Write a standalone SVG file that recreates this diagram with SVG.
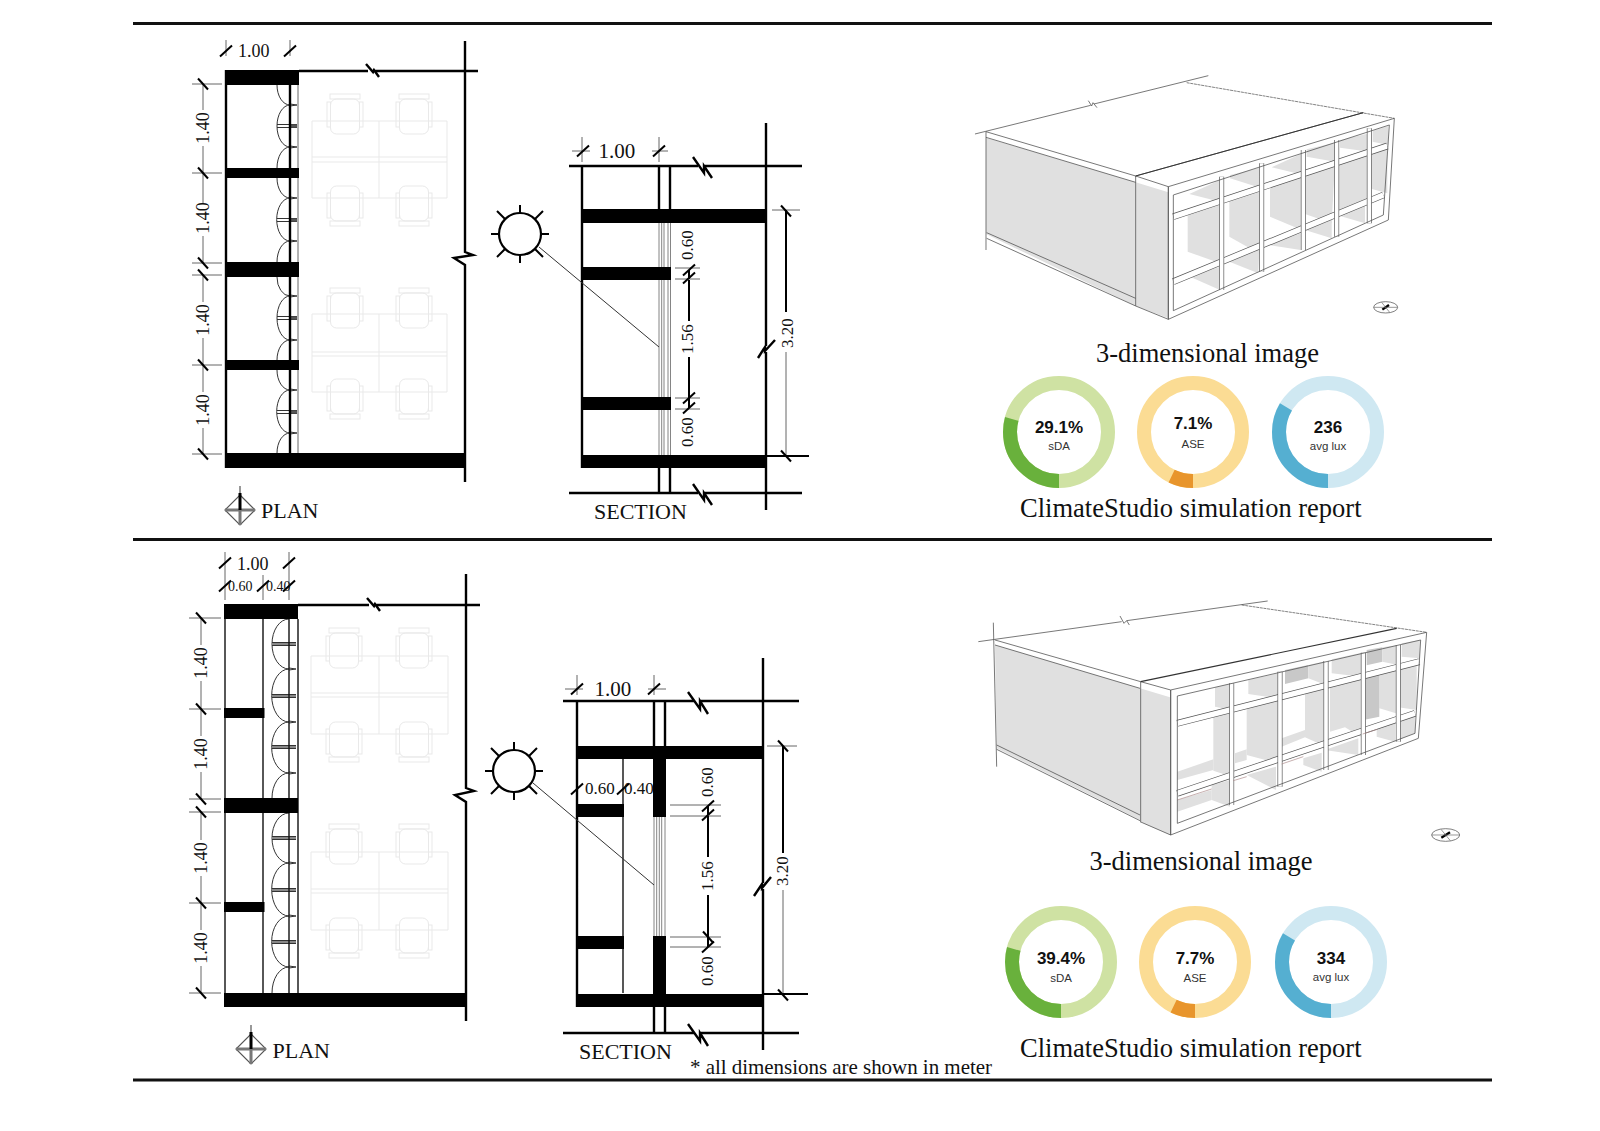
<svg xmlns="http://www.w3.org/2000/svg" xmlns:xlink="http://www.w3.org/1999/xlink" width="1600" height="1131" viewBox="0 0 1600 1131">
<style>
text{font-family:"Liberation Serif","Times New Roman",serif;fill:#111}
.sans{font-family:"Liberation Sans",Arial,sans-serif}
.b{font-weight:700;font-size:17px}
.s{font-size:11.5px;fill:#333}
.m{text-anchor:middle}
.cap{font-size:26.5px}
.d18{font-size:18px}.d17{font-size:17px}.d14{font-size:14px}.d21{font-size:21px}.d22{font-size:22px}
.k{fill:none;stroke:#000;stroke-width:2.4}
.w{fill:none;stroke:#111;stroke-width:1.4}
.g{fill:none;stroke:#666;stroke-width:1}
.t{fill:none;stroke:#777;stroke-width:.9}
.ray{fill:none;stroke:#333;stroke-width:1}
.slab{fill:#000}
.sl{fill:none;stroke:#000;stroke-width:2}
.arc{fill:none;stroke:#333;stroke-width:1}
.f{fill:none;stroke:#e9e9e9;stroke-width:1}
.ring{fill:none;stroke-width:14}
.face{fill:#e0e0e0}
.e{fill:none;stroke:#555;stroke-width:2.4}
.ed{fill:none;stroke:#444;stroke-width:2;stroke-dasharray:9 2}
.mo{fill:none;stroke:#555;stroke-width:15}
.mi{fill:none;stroke:#fff;stroke-width:11}
.bo{fill:none;stroke:#555;stroke-width:20}
.bi{fill:none;stroke:#fff;stroke-width:16}
</style>
<defs>
<path id="sa" class="sl" d="M-5,-5.5 L5,5.5"/>
<path id="sb" class="sl" d="M-6,5.5 L6,-5.5"/>
<g id="chair"><rect class="f" x="-15" y="0" width="30" height="5"/><rect class="f" x="-18" y="8" width="3.5" height="25"/><rect class="f" x="14.5" y="8" width="3.5" height="25"/><rect class="f" x="-14.5" y="5" width="29" height="35" rx="6"/></g>
<g id="mid1"><path class="arc" d="M277,-1.5H297M277,1.5H297"/><rect x="290" y="-1.5" width="7" height="3" fill="#555"/></g>
<g id="tip"><path class="arc" d="M290,-1L297,0L290,1"/></g>
<g id="north"><path fill="none" stroke="#555" stroke-width="1.2" d="M0,-15L15,0L0,15L-15,0Z M0,-24V15"/><rect x="-15" y="-1.5" width="30" height="3" fill="#777"/><rect x="-1.5" y="-17" width="3" height="17" fill="#000"/><rect x="-1.5" y="0" width="3" height="15" fill="#777"/></g>
<g id="sun"><circle r="21" fill="#fff" stroke="#000" stroke-width="2.2"/><path class="sl" d="M0,-21V-29M0,21V29M-21,0H-29M21,0H29M-15,-15L-23,-23M15,-15L23,-23M-15,15L-23,23M15,15L23,23"/></g>
<g id="sda"><circle class="ring" r="49" stroke="#cfe2a3"/><circle class="ring" r="49" stroke="#69b13c" pathLength="100" stroke-dasharray="29.3 70.7" transform="rotate(90)"/></g>
<g id="ase"><circle class="ring" r="49" stroke="#fbdc94"/><circle class="ring" r="49" stroke="#e8952c" pathLength="100" stroke-dasharray="7.2 92.8" transform="rotate(90)"/></g>
<g id="lux"><circle class="ring" r="49" stroke="#cfe8f2"/><circle class="ring" r="49" stroke="#55afd1" pathLength="100" stroke-dasharray="33.6 66.4" transform="rotate(90)"/></g>
</defs>
<rect width="1600" height="1131" fill="#fff"/>
<g id="rules"><path stroke="#111" stroke-width="3" fill="none" d="M133,23.5H1492M133,539.5H1492M133,1080H1492"/></g>

<g id="plan-1">
<g id="plan-1-furniture">
<path class="f" d="M312,121H447V198H312ZM379,121V198M312,157H447M312,162H447M312,314H447V392H312ZM379,314V392M312,352H447M312,356H447"/>
<use href="#chair" transform="translate(345,94)"/><use href="#chair" transform="translate(414,94)"/>
<use href="#chair" transform="translate(345,226) scale(1,-1)"/><use href="#chair" transform="translate(414,226) scale(1,-1)"/>
<use href="#chair" transform="translate(345,288)"/><use href="#chair" transform="translate(414,288)"/>
<use href="#chair" transform="translate(345,419) scale(1,-1)"/><use href="#chair" transform="translate(414,419) scale(1,-1)"/>
</g>
<path class="arc" d="M277,85A13,20 0 0 0 290,105A13,21 0 0 0 290,147A13,21 0 0 0 277,168M277,178A13,20 0 0 0 290,198A13,21 0 0 0 290,241A13,21 0 0 0 277,262M277,277A13,19 0 0 0 290,296A13,22 0 0 0 290,340A13,20 0 0 0 277,360M277,370A13,20 0 0 0 290,390A13,21 0 0 0 290,433A13,20 0 0 0 277,453"/>
<use href="#mid1" y="126"/><use href="#mid1" y="220"/><use href="#mid1" y="318"/><use href="#mid1" y="412"/>
<use href="#tip" y="105"/><use href="#tip" y="147"/><use href="#tip" y="198"/><use href="#tip" y="241"/><use href="#tip" y="296"/><use href="#tip" y="340"/><use href="#tip" y="390"/><use href="#tip" y="433"/>
<path class="k" d="M226,70V468M290,85V453M465,41V252L473,255L454,258L465,265V482M299,71H368M375,71H478M366,64L373,72L374,70L379,77"/>
<path class="g" d="M298,85V453"/>
<path class="slab" d="M226,70H299V85H226ZM226,168H299V178H226ZM226,262H299V277H226ZM226,360H299V370H226ZM226,453H464V468H226Z"/>
<path class="g" d="M192,84H222M192,173H222M192,263H222M192,275H222M192,365H222M192,454H222M226,40V56M290,40V56"/>
<path class="g" d="M203,84V110M203,146V203M203,236V263M203,275V302M203,338V392M203,428V454"/>
<use href="#sa" x="203" y="84"/><use href="#sa" x="203" y="173"/><use href="#sa" x="203" y="263"/><use href="#sa" x="203" y="275"/><use href="#sa" x="203" y="365"/><use href="#sa" x="203" y="454"/>
<use href="#sb" x="226" y="51"/><use href="#sb" x="290" y="51"/>
<text class="d18" x="238" y="57">1.00</text>
<text class="d18 m" transform="translate(209,128) rotate(-90)">1.40</text>
<text class="d18 m" transform="translate(209,218) rotate(-90)">1.40</text>
<text class="d18 m" transform="translate(209,320) rotate(-90)">1.40</text>
<text class="d18 m" transform="translate(209,410) rotate(-90)">1.40</text>
<use href="#north" x="240" y="510"/>
<text class="d22" x="261" y="518">PLAN</text>
</g>

<g id="section-1">
<path class="t" d="M659,223V455M661.700,223V455M664,223V455M668,223V455M670.500,223V455"/>
<path class="k" d="M582,166V468M659,166V210M670,166V210M659,468V493M670,468V493M766,123V346M775,340L765,351L765,347L758,358M766,352V510M569,166H698M693,157L704,173L704,166L712,178M704,166H802M569,493H698M693,484L704,500L704,493L712,505M704,493H802"/>
<path class="slab" d="M582,209H766V223H582ZM582,267H671V280H582ZM582,397H671V410H582ZM582,455H766V468H582Z"/>
<use href="#sun" x="520" y="234"/>
<path class="ray" d="M539,247L659,347"/>
<path class="g" d="M582,137V162M659,137V162M572,151H590M652,151H668M675,268H700M675,279H700M675,398H700M675,409H700M772,210H800M786,352V456"/>
<path class="sl" d="M689,270V279M689,280V321M689,357V398M689,398V408M786,210V312M766,456H809"/>
<use href="#sb" x="583" y="151"/><use href="#sb" x="659" y="151"/>
<use href="#sa" x="786" y="211"/><use href="#sa" x="786" y="456"/>
<use href="#sb" x="689" y="270"/><use href="#sb" x="689" y="278"/><use href="#sb" x="689" y="398"/><use href="#sb" x="689" y="408"/>
<text class="d21" x="598.500" y="158">1.00</text>
<text class="d17 m" transform="translate(693,245) rotate(-90)">0.60</text>
<text class="d17 m" transform="translate(693,339) rotate(-90)">1.56</text>
<text class="d17 m" transform="translate(693,432) rotate(-90)">0.60</text>
<text class="d17 m" transform="translate(793,333) rotate(-90)">3.20</text>
<text class="d22" x="594" y="519">SECTION</text>
</g>

<g id="model-1">
<g transform="translate(960,60) scale(.33333)">
<polygon class="face" points="78,233 527,367 527,738 78,522"/>
<polygon class="face" points="527,367 625,397 625,775 527,738"/>
<polygon fill="#fff" points="625,380 1303,175 1285,480 625,778"/>
<g fill="#e0e0e0">
<polygon points="688,402 780,360 780,425"/><polygon points="810,345 905,322 905,385 810,355"/><polygon points="935,322 1030,278 1030,345"/><polygon points="1040,268 1125,248 1125,305 1040,290"/><polygon points="1140,240 1228,220 1228,275 1140,263"/><polygon points="1238,212 1285,198 1285,255 1238,245"/>
<polygon points="683,456 780,424 780,610 683,575"/><polygon points="808,415 900,385 900,582 808,530"/><polygon points="930,375 1025,345 1025,510 930,470"/><polygon points="1035,340 1125,305 1115,490 1035,462"/><polygon points="1135,300 1222,272 1222,424 1135,460"/><polygon points="1228,270 1282,258 1282,400 1228,385"/>
<polygon points="690,650 780,620 780,690"/><polygon points="808,605 898,570 895,640"/><polygon points="925,555 1022,520 1022,570"/><polygon points="1035,510 1115,480 1115,535"/><polygon points="1130,465 1215,430 1215,490"/>
</g>
<path class="bo" d="M640,470L1282,258M640,665L1270,405"/>
<path class="bi" d="M640,470L1282,258M640,665L1270,405"/>
<path class="mo" d="M785,350V690M905,310V635M1030,270V570M1130,240V530M1228,205V490"/>
<path class="mi" d="M785,350V690M905,310V635M1030,270V570M1130,240V530M1228,205V490"/>
<path class="e" d="M640,405L1288,195L1270,465L640,752ZM625,380L1303,175L1285,480L625,778ZM625,380V778M527,348L625,380M527,738L625,778M527,348V738M78,215L527,348M78,232L527,367M78,215V570M80,518L527,715M80,535L527,738M45,222L392,136M385,122L395,138L399,128L411,143M402,132L745,47M527,348L1210,158"/>
<path class="ed" d="M680,68L1303,175"/>
<path fill="none" stroke="#333" stroke-width="3" d="M527,348L1210,158"/>
<g transform="translate(1277,742)"><ellipse rx="36" ry="17" fill="none" stroke="#666" stroke-width="2.500"/><path stroke="#000" stroke-width="7" d="M-10,7L10,-7"/><path stroke="#666" stroke-width="2" d="M-36,0H36M-12,-15L12,15"/></g>
</g>
<text class="cap" x="1096" y="362">3-dimensional image</text>
</g>

<g id="donuts-1">
<g id="d1-sda"><use href="#sda" x="1059" y="432"/><text class="sans b m" x="1059" y="433">29.1%</text><text class="sans s m" x="1059" y="450">sDA</text></g>
<g id="d1-ase"><use href="#ase" x="1193" y="432"/><text class="sans b m" x="1193" y="429">7.1%</text><text class="sans s m" x="1193" y="448">ASE</text></g>
<g id="d1-lux"><use href="#lux" x="1328" y="432"/><text class="sans b m" x="1328" y="433">236</text><text class="sans s m" x="1328" y="450">avg lux</text></g>
<text class="cap" x="1020" y="517">ClimateStudio simulation report</text>
</g>

<g id="plan-2">
<g id="plan-2-furniture">
<path class="f" d="M311,656H448V734H311ZM379,656V734M311,693H448M311,697H448M311,852H448V930H311ZM379,852V930M311,889H448M311,893H448"/>
<use href="#chair" transform="translate(344,628)"/><use href="#chair" transform="translate(414,628)"/>
<use href="#chair" transform="translate(344,762) scale(1,-1)"/><use href="#chair" transform="translate(414,762) scale(1,-1)"/>
<use href="#chair" transform="translate(344,824)"/><use href="#chair" transform="translate(414,824)"/>
<use href="#chair" transform="translate(344,958) scale(1,-1)"/><use href="#chair" transform="translate(414,958) scale(1,-1)"/>
</g>
<path class="arc" d="M289,619A17,25 0 0 0 289,669A17,26 0 0 0 289,722A17,25 0 0 0 289,773A17,25 0 0 0 272,798M289,813A17,25 0 0 0 289,863A17,26 0 0 0 289,916A17,25 0 0 0 289,967A17,26 0 0 0 272,993"/>
<path class="arc" d="M272,642.500H296M272,645.500H296M272,694.500H296M272,697.500H296M272,745.500H296M272,748.500H296M272,836.500H296M272,839.500H296M272,888.500H296M272,891.500H296M272,940.500H296M272,943.500H296"/>
<path fill="#888" d="M272,643H296V645H272ZM272,695H296V697H272ZM272,746H296V748H272ZM272,837H296V839H272ZM272,889H296V891H272ZM272,941H296V943H272Z"/>
<g transform="translate(-1,0)"><use href="#tip" y="669"/><use href="#tip" y="722"/><use href="#tip" y="773"/><use href="#tip" y="863"/><use href="#tip" y="916"/><use href="#tip" y="967"/></g>
<path class="w" d="M225,604V1007M263,619V993M289,619V993M298,619V993"/>
<path class="k" d="M466,574V788L474,791L455,795L466,802V1021M298,605H369M376,605H480M367,598L374,606L375,604L380,611"/>
<path class="slab" d="M224,604H298V619H224ZM224,708H264.500V718H224ZM224,798H298V813H224ZM224,902H264.500V912H224ZM224,993H465V1007H224Z"/>
<path class="g" d="M189,618H221M189,709H221M189,799H221M189,812H221M189,903H221M189,993H221M225,552V600M263,575V600M289,552V600"/>
<path class="g" d="M201,618V645M201,681V736M201,772V799M201,812V840M201,876V930M201,966V993"/>
<use href="#sa" x="201" y="618"/><use href="#sa" x="201" y="709"/><use href="#sa" x="201" y="799"/><use href="#sa" x="201" y="812"/><use href="#sa" x="201" y="903"/><use href="#sa" x="201" y="993"/>
<use href="#sb" x="225" y="563"/><use href="#sb" x="289" y="563"/><use href="#sb" x="225" y="586"/><use href="#sb" x="263" y="586"/><use href="#sb" x="289" y="586"/>
<text class="d18" x="237" y="570">1.00</text>
<text class="d14" x="228" y="591">0.60</text>
<text class="d14" x="266" y="591">0.40</text>
<text class="d18 m" transform="translate(207,663) rotate(-90)">1.40</text>
<text class="d18 m" transform="translate(207,754) rotate(-90)">1.40</text>
<text class="d18 m" transform="translate(207,858) rotate(-90)">1.40</text>
<text class="d18 m" transform="translate(207,948) rotate(-90)">1.40</text>
<use href="#north" x="251" y="1049"/>
<text class="d22" x="272.500" y="1058">PLAN</text>
</g>

<g id="section-2">
<path class="t" d="M654,817V936M656.700,817V936M659.300,817V936M661.700,817V936M665,817V936"/>
<path class="k" d="M577,701V1007M654,701V746M665,701V746M654,1007V1033M665,1007V1033M763,658V883M771,877L762,888L762,884L754,896M763,889V1050M563,701H694M688,692L700,709L700,701L708,714M700,701H799M563,1033H694M688,1024L700,1041L700,1033L708,1046M700,1033H799"/>
<path class="w" d="M623,759V993"/>
<path class="slab" d="M576,746H763V759H576ZM576,804H624V817H576ZM576,936H624V949H576ZM576,994H763V1007H576ZM653,746H666V817H653ZM653,936H666V1007H653Z"/>
<use href="#sun" x="514" y="771"/>
<path class="ray" d="M533,783L654,885"/>
<path class="g" d="M577,675V695M654,675V695M565,689H583M648,689H666M670,805H721M670,816H721M670,937H721M670,947H721M767,746H797M783,890V994"/>
<path class="sl" d="M708,806V815M708,816V857M708,895V937M708,937V947M783,746V853M763,994H808"/>
<use href="#sb" x="577" y="689"/><use href="#sb" x="654" y="689"/><use href="#sb" x="577" y="789"/><use href="#sb" x="623" y="789"/>
<use href="#sa" x="783" y="746"/><use href="#sa" x="783" y="995"/>
<use href="#sb" x="708" y="806"/><use href="#sb" x="708" y="815"/><use href="#sa" x="708" y="937"/><use href="#sb" x="708" y="947"/>
<text class="d21" x="594.500" y="696">1.00</text>
<text class="d17" x="585" y="794">0.60</text>
<text class="d17" x="624" y="794">0.40</text>
<text class="d17 m" transform="translate(713,782) rotate(-90)">0.60</text>
<text class="d17 m" transform="translate(713,876) rotate(-90)">1.56</text>
<text class="d17 m" transform="translate(713,971) rotate(-90)">0.60</text>
<text class="d17 m" transform="translate(788,871) rotate(-90)">3.20</text>
<text class="d22" x="579" y="1059">SECTION</text>
<text class="d21" x="690" y="1074" textLength="302">* all dimensions are shown in meter</text>
</g>

<g id="model-2">
<g transform="translate(970,590) scale(.33333)">
<polygon class="face" points="75,165 510,295 510,690 80,475"/>
<polygon class="face" points="510,295 600,322 600,735 510,695"/>
<polygon fill="#fff" points="602,300 1370,127 1345,445 602,735"/>
<g fill="#e0e0e0">
<polygon points="735,292 785,280 785,360 735,350"/><polygon points="835,270 925,250 925,325 835,312"/><polygon points="945,240 1015,225 1015,265 945,282" fill="#c8c8c8"/><polygon points="1015,225 1068,213 1068,285 1015,265"/><polygon points="1085,208 1175,188 1175,260 1085,250"/><polygon points="1190,180 1237,172 1237,215 1190,226" fill="#c8c8c8"/><polygon points="1237,172 1285,165 1285,225 1237,215"/><polygon points="1295,160 1350,150 1350,205 1295,200"/>
<polygon points="730,372 785,358 785,560 730,542"/><polygon points="830,347 925,323 925,520 830,495"/><polygon points="1005,302 1068,286 1068,470 1005,442"/><polygon points="1080,283 1172,260 1172,440 1125,412 1080,425"/><polygon points="1228,245 1285,231 1285,372 1228,355"/><polygon points="1185,257 1228,246 1228,380 1180,390" fill="#c8c8c8"/><polygon points="1285,231 1340,217 1340,360 1285,352"/>
<polygon points="622,545 730,508 730,540 622,570"/><polygon points="795,490 830,478 830,510 795,520"/><polygon points="935,445 1005,420 1005,442 935,470"/>
<polygon points="725,585 780,570 780,650 725,630"/><polygon points="830,555 918,530 918,600"/><polygon points="1000,505 1055,488 1055,545 1000,525"/><polygon points="1065,480 1165,445 1165,495"/><polygon points="1220,412 1275,395 1275,455 1220,440"/><polygon points="1285,390 1335,375 1335,430 1285,450"/><polygon points="622,630 725,600 725,630 622,665"/>
</g>
<path class="bo" d="M622,400L1348,215M622,610L1335,370"/>
<path class="bi" d="M622,400L1348,215M622,610L1335,370"/>
<path class="mo" d="M785,280V645M930,245V590M1068,213V540M1180,188V495M1285,165V455"/>
<path class="mi" d="M785,280V645M930,245V590M1068,213V540M1180,188V495M1285,165V455"/>
<path fill="none" stroke="#a88" stroke-width="2" d="M622,630L725,597M790,572L830,560M935,522L1000,500M1178,432L1222,418"/>
<path class="e" d="M622,318L1352,150L1335,430L622,700ZM602,300L1370,127L1345,445L602,735ZM602,300V735M512,275L602,300M510,695L602,735M512,275V695M75,150L512,275M75,165L510,295M70,98L80,530M80,465L510,675M80,478L510,692M25,155L455,95M450,78L462,100L470,92L478,105M470,92L893,33"/>
<path class="ed" d="M815,45L1370,127"/>
<path fill="none" stroke="#333" stroke-width="3.500" d="M512,275L1280,115"/>
<g transform="translate(1427,735)"><ellipse rx="42" ry="19" fill="none" stroke="#666" stroke-width="2.500"/><path stroke="#000" stroke-width="7" d="M-13,8L13,-8"/><path stroke="#666" stroke-width="2" d="M-42,0H42M-14,-17L14,17"/></g>
</g>
<text class="cap" x="1089.500" y="870">3-dimensional image</text>
</g>

<g id="donuts-2">
<g id="d2-sda"><use href="#sda" x="1061" y="962"/><text class="sans b m" x="1061" y="964">39.4%</text><text class="sans s m" x="1061" y="982">sDA</text></g>
<g id="d2-ase"><use href="#ase" x="1195" y="962"/><text class="sans b m" x="1195" y="964">7.7%</text><text class="sans s m" x="1195" y="982">ASE</text></g>
<g id="d2-lux"><use href="#lux" x="1331" y="962"/><text class="sans b m" x="1331" y="964">334</text><text class="sans s m" x="1331" y="981">avg lux</text></g>
<text class="cap" x="1020" y="1057">ClimateStudio simulation report</text>
</g>
</svg>
